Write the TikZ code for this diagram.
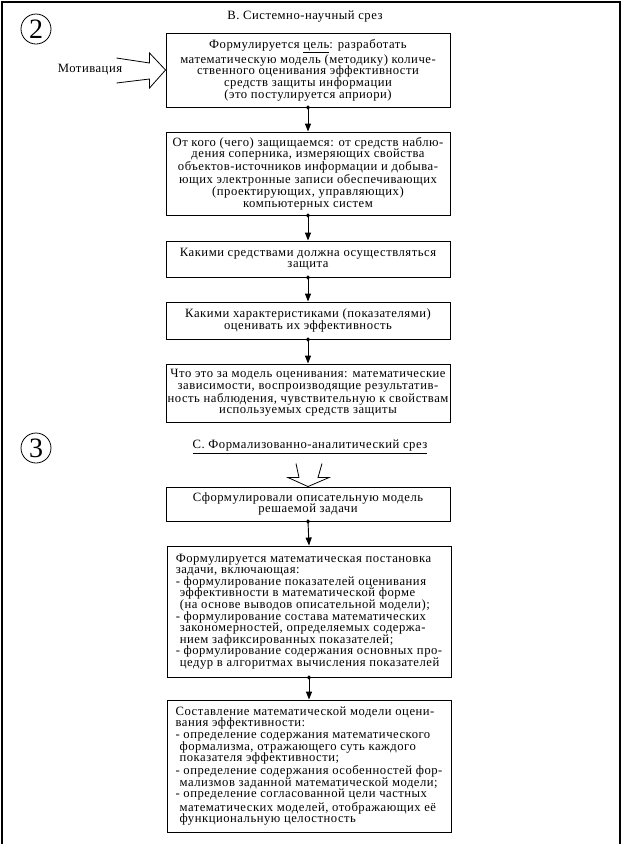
\documentclass[tikz,border=0pt]{standalone}
\usepackage{fontspec}
\setmainfont{Liberation Serif}
\newfontfamily\boxfont{Liberation Serif}[LetterSpace=4]
\usetikzlibrary{arrows.meta}
\begin{document}
\begin{tikzpicture}[x=0.75pt,y=-0.75pt,
  txt/.style={font=\boxfont\fontsize{9.5pt}{8.7pt}\selectfont, inner sep=0pt},
  box/.style={txt, draw, line width=0.7pt, minimum width=213pt, align=center},
  lbox/.style={box, align=left},
  conn/.style={line width=0.7pt, {Circle[length=3pt]}-{Triangle[length=6pt,width=4.5pt]}, shorten <=-1.5pt},
  hollow/.style={draw, line width=0.6pt},
  num/.style={circle, draw, line width=0.6pt, minimum size=22.5pt, inner sep=0pt, font=\fontsize{21pt}{21pt}\selectfont}]

\useasboundingbox (0,0) rectangle (624,844);
\draw[line width=0.9pt] (2,844) -- (2,2) -- (620,2) -- (620,844);

\node[num] (n2) at (36,29) {2};
\node[num] (n3) at (36,448) {3};

\node[txt] (hb) at (305,17) {В. Системно-научный срез};
\node[txt] (hc) at (310,447) {\underline{С. Формализованно-аналитический срез}};
\node[txt] (mot) at (90,70) {Мотивация};

\node[box, minimum height=55.5pt] (b1) at (308,70) {Формулируется \underline{цель}: разработать\\математическую модель (методику) количе-\\ственного оценивания эффективности\\средств защиты информации\\(это постулируется априори)};
\node[box, minimum height=62.25pt] (b2) at (308,173.5) {От кого (чего) защищаемся: от средств наблю-\\дения соперника, измеряющих свойства\\объектов-источников информации и добыва-\\ющих электронные записи обеспечивающих\\(проектирующих, управляющих)\\компьютерных систем};
\node[box, minimum height=27pt] (b3) at (308,259) {Какими средствами должна осуществляться\\защита};
\node[box, minimum height=27.75pt] (b4) at (308,320.5) {Какими характеристиками (показателями)\\оценивать их эффективность};
\node[box, minimum height=43.5pt] (b5) at (308,393) {Что это за модель оценивания: математические\\зависимости, воспроизводящие результатив-\\ность наблюдения, чувствительную к свойствам\\используемых средств защиты};
\node[box, minimum height=25.5pt] (b6) at (308,504) {Сформулировали описательную модель\\решаемой задачи};
\node[lbox, minimum height=98.25pt] (b7) at (309,611.5) {Формулируется математическая постановка\\задачи, включающая:\\- формулирование показателей оценивания\\\hspace*{3pt}эффективности в математической форме\\\hspace*{3pt}(на основе выводов описательной модели);\\- формулирование состава математических\\\hspace*{3pt}закономерностей, определяемых содержа-\\\hspace*{3pt}нием зафиксированных показателей;\\- формулирование содержания основных про-\\\hspace*{3pt}цедур в алгоритмах вычисления показателей};
\node[lbox, minimum height=99pt] (b8) at (309,766) {Составление математической модели оцени-\\вания эффективности:\\- определение содержания математического\\\hspace*{3pt}формализма, отражающего суть каждого\\\hspace*{3pt}показателя эффективности;\\- определение содержания особенностей фор-\\\hspace*{3pt}мализмов заданной математической модели;\\- определение согласованной цели частных\\\hspace*{3pt}математических моделей, отображающих её\\\hspace*{3pt}функциональную целостность};

\draw[conn] (b1.south) -- (b2.north);
\draw[conn] (b2.south) -- (b3.north);
\draw[conn] (b3.south) -- (b4.north);
\draw[conn] (b4.south) -- (b5.north);
\draw[conn] (b6.south) -- (b7.north);
\draw[conn] (b7.south) -- (b8.north);

\draw[hollow] (b1.west) -- ++(-16,-17) -- ++(0,10) -- ++(-33,-5);
\draw[hollow] (b1.west) -- ++(-16,18) -- ++(0,-9) -- ++(-33,4);

\draw[hollow] (b6.north) -- ++(-20,-9) -- ++(11,0) -- ++(-3,-14);
\draw[hollow] (b6.north) -- ++(21,-9) -- ++(-11,0) -- ++(4,-14);
\end{tikzpicture}
\end{document}
